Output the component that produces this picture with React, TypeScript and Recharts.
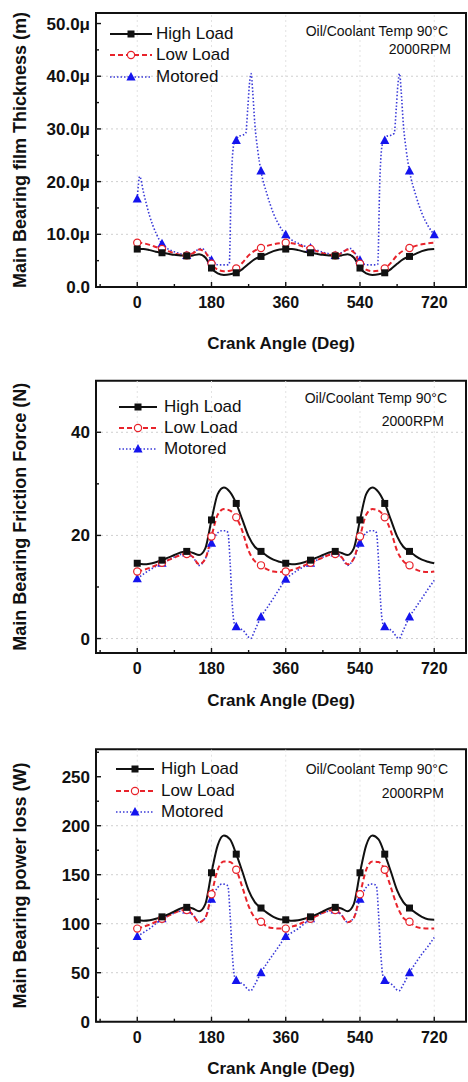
import React from "react";
import { LineChart, Line, XAxis, YAxis, ReferenceLine, ReferenceArea, Legend } from "recharts";

const FONT = '"Liberation Sans", Arial, Helvetica, sans-serif';

// crank angle (deg) for the high / low load curves
const loadAngles = [
  0, 15, 30, 45, 60, 75, 90, 105, 120, 135, 150, 165, 180, 195, 210, 225, 240, 255, 270, 285, 300, 315, 330, 345, 360,
  375, 390, 405, 420, 435, 450, 465, 480, 495, 510, 525, 540, 555, 570, 585, 600, 615, 630, 645, 660, 675, 690, 705, 720,
];

// film thickness, micrometres
const filmHigh = [
  7.2, 7.2, 7.0, 6.7, 6.5, 6.3, 6.1, 6.0, 5.9, 6.0, 6.2, 5.6, 3.6, 2.6, 2.3, 2.4, 2.7, 3.4, 4.4, 5.3, 5.8, 6.3, 6.8, 7.1, 7.2,
  7.2, 7.0, 6.7, 6.5, 6.3, 6.1, 6.0, 5.9, 6.0, 6.2, 5.6, 3.6, 2.6, 2.3, 2.4, 2.7, 3.4, 4.4, 5.3, 5.8, 6.3, 6.8, 7.1, 7.2,
];
const filmLow = [
  8.4, 8.3, 8.0, 7.6, 7.2, 6.8, 6.4, 6.1, 6.0, 6.4, 7.1, 6.6, 4.4, 3.3, 3.0, 3.1, 3.5, 4.6, 6.0, 6.9, 7.4, 7.8, 8.1, 8.3, 8.4,
  8.3, 8.0, 7.6, 7.2, 6.8, 6.4, 6.1, 6.0, 6.4, 7.1, 6.6, 4.4, 3.3, 3.0, 3.1, 3.5, 4.6, 6.0, 6.9, 7.4, 7.8, 8.1, 8.3, 8.4,
];
const filmMotAngles = [
  0, 6, 15, 30, 45, 60, 75, 90, 105, 120, 135, 150, 158, 165, 180, 190, 200, 215, 223, 228, 234, 240, 245, 255, 263,
  268, 272, 276, 280, 285, 292, 300, 315, 330, 345, 360,
  375, 390, 405, 420, 435, 450, 465, 480, 495, 510, 518, 525, 540, 550, 560, 575, 583, 588, 594, 600, 605, 615, 623,
  628, 632, 636, 640, 645, 652, 660, 675, 690, 705, 720,
];
const filmMot = [
  16.7, 21.0, 18.0, 13.5, 10.3, 8.2, 7.2, 6.7, 6.3, 6.0, 6.5, 7.2, 7.3, 6.7, 5.1, 4.3, 4.2, 4.2, 4.3, 20, 27, 27.8, 28.6, 28.8, 29.2,
  34, 38.5, 40.5, 37, 31, 26, 22.0, 17.5, 14.0, 11.6, 9.9,
  8.9, 8.3, 7.8, 7.4, 7.0, 6.6, 6.3, 6.0, 6.5, 7.2, 7.3, 6.7, 5.1, 4.3, 4.2, 4.2, 4.3, 20, 27, 27.8, 28.6, 28.8, 29.2,
  34, 38.5, 40.5, 37, 31, 26, 22.0, 17.5, 14.0, 11.6, 9.9,
];

// friction force, N
const forceHigh = [
  14.6, 14.4, 14.5, 14.8, 15.2, 15.7, 16.2, 16.7, 16.9, 16.6, 16.2, 17.5, 23.0, 28.0, 29.3, 28.4, 26.2, 23.0, 19.8, 17.8, 16.9, 16.0, 15.3, 14.9, 14.6,
  14.4, 14.5, 14.8, 15.2, 15.7, 16.2, 16.7, 16.9, 16.6, 16.2, 17.5, 23.0, 28.0, 29.3, 28.4, 26.2, 23.0, 19.8, 17.8, 16.9, 16.0, 15.3, 14.9, 14.6,
];
const forceLow = [
  13.0, 13.3, 13.7, 14.2, 14.7, 15.2, 15.7, 16.2, 16.4, 15.8, 14.4, 15.5, 19.8, 24.0, 25.1, 24.8, 23.5, 20.8, 17.0, 15.0, 14.2, 13.4, 13.0, 12.9, 13.0,
  13.3, 13.7, 14.2, 14.7, 15.2, 15.7, 16.2, 16.4, 15.8, 14.4, 15.5, 19.8, 24.0, 25.1, 24.8, 23.5, 20.8, 17.0, 15.0, 14.2, 13.4, 13.0, 12.9, 13.0,
];
const motAngles = [
  0, 15, 30, 45, 60, 75, 90, 105, 120, 135, 150, 165, 180, 195, 205, 215, 220, 225, 230, 235, 240, 250, 260, 268, 275,
  285, 300, 315, 330, 345, 360,
  375, 390, 405, 420, 435, 450, 465, 480, 495, 510, 525, 540, 555, 565, 575, 580, 585, 590, 595, 600, 610, 620, 628, 635,
  645, 660, 675, 690, 705, 720,
];
const forceMot = [
  11.6, 12.5, 13.3, 14.0, 14.6, 15.2, 15.8, 16.3, 16.6, 15.8, 14.2, 15.5, 18.5, 20.5, 20.9, 20.9, 20.5, 15, 7, 3, 2.3, 1.9, 1.3, 0.4, 0.0,
  1.6, 4.2, 6.0, 7.8, 9.7, 11.5,
  12.5, 13.3, 14.0, 14.6, 15.2, 15.8, 16.3, 16.6, 15.8, 14.2, 15.5, 18.5, 20.5, 20.9, 20.9, 20.5, 15, 7, 3, 2.3, 1.9, 1.3, 0.4, 0.0,
  1.6, 4.2, 6.0, 7.8, 9.6, 11.3,
];

// power loss, W
const powerHigh = [
  104, 103, 103.5, 105, 107, 109.5, 112.5, 115.5, 116.7, 115.5, 112.8, 120, 152, 180, 190, 186, 171, 153, 134, 122, 116, 111, 107, 104.5, 104,
  103, 103.5, 105, 107, 109.5, 112.5, 115.5, 116.7, 115.5, 112.8, 120, 152, 180, 190, 186, 171, 153, 134, 122, 116, 111, 107, 104.5, 104,
];
const powerLow = [
  95, 97, 99, 102, 105, 108, 111, 113.5, 114, 109, 101.5, 106, 130, 155, 163.5, 163, 155, 137, 118, 106, 102, 97, 95.5, 95, 95,
  97, 99, 102, 105, 108, 111, 113.5, 114, 109, 101.5, 106, 130, 155, 163.5, 163, 155, 137, 118, 106, 102, 97, 95.5, 95, 95,
];
const powerMot = [
  87, 91, 95, 100, 105, 108, 111, 113, 114, 109, 101.5, 106, 125, 137, 140.5, 140, 138, 110, 72, 48, 42, 40, 37, 33, 31.6,
  38, 50, 60, 69, 78, 87,
  91, 95, 100, 105, 108, 111, 113, 114, 109, 101.5, 106, 125, 137, 140.5, 140, 138, 110, 72, 48, 42, 40, 37, 33, 31.6,
  38, 50, 60, 69, 77, 86,
];

// marker positions
const marks = [0, 60, 120, 180, 240, 300, 360, 420, 480, 540, 600, 660];
const marksWithEnd = [0, 60, 120, 180, 240, 300, 360, 420, 480, 540, 600, 660, 720];

const xTicks = [-90, 0, 90, 180, 270, 360, 450, 540, 630, 720];
const xMajor = [0, 180, 360, 540, 720];
const xDomain: [number, number] = [-100, 797];

const seriesNames = ["High Load", "Low Load", "Motored"];
const noteLines = ["Oil/Coolant Temp 90\u00b0C", "2000RPM"];

const BLACK = "#111";
const RED = "#e8232b";
const BLUE_LINE = "#3a3ad8";
const BLUE_MARK = "#1414ee";

const zip = (xs: number[], ys: number[]) => xs.map((a, i) => ({ a, v: ys[i] }));

const square = (on: number[]) => (p: any) =>
  on.includes(p.payload.a) ? (
    <rect key={p.index} x={p.cx - 3.5} y={p.cy - 3.5} width={7} height={7} fill={BLACK} />
  ) : (
    <g key={p.index} />
  );
const circle = (on: number[]) => (p: any) =>
  on.includes(p.payload.a) ? (
    <circle key={p.index} cx={p.cx} cy={p.cy} r={3.6} fill="#fff" stroke={RED} strokeWidth={1.2} />
  ) : (
    <g key={p.index} />
  );
const triangle = (on: number[]) => (p: any) =>
  on.includes(p.payload.a) ? (
    <path key={p.index} d={`M${p.cx},${p.cy - 5} L${p.cx + 4.6},${p.cy + 3.5} L${p.cx - 4.6},${p.cy + 3.5} Z`} fill={BLUE_MARK} />
  ) : (
    <g key={p.index} />
  );

const XTick = (props: any) => {
  const { x, y, payload } = props;
  const major = xMajor.includes(payload.value);
  return (
    <g>
      <line x1={x} x2={x} y1={y} y2={y - (major ? 5 : 3)} stroke={BLACK} strokeWidth={1.4} />
      {major && (
        <text x={x} y={y + 21} textAnchor="middle" fontSize={16} fontWeight="bold" fontFamily={FONT} fill={BLACK}>
          {payload.value}
        </text>
      )}
    </g>
  );
};

const makeYTick = (labels: Record<number, string>) => (props: any) => {
  const { x, y, payload } = props;
  const text = labels[payload.value];
  const major = text !== undefined;
  return (
    <g>
      <line x1={x} x2={x + (major ? 5 : 3)} y1={y} y2={y} stroke={BLACK} strokeWidth={1.4} />
      {major && (
        <text x={x - 6} y={y + 6} textAnchor="end" fontSize={17} fontWeight="bold" fontFamily={FONT} fill={BLACK}>
          {text}
        </text>
      )}
    </g>
  );
};

const yTitle = (text: string) => (props: any) => {
  const vb = props.viewBox;
  const cx = 20;
  const cy = vb.y + vb.height / 2;
  return (
    <text
      x={cx}
      y={cy}
      transform={`rotate(-90 ${cx} ${cy})`}
      textAnchor="middle"
      dominantBaseline="central"
      fontSize={18}
      fontWeight="bold"
      fontFamily={FONT}
      fill={BLACK}
    >
      {text}
    </text>
  );
};

const xTitle = (drop: number) => (props: any) => {
  const vb = props.viewBox;
  return (
    <text x={vb.x + vb.width / 2} y={vb.y + drop} textAnchor="middle" fontSize={17} fontWeight="bold" fontFamily={FONT} fill={BLACK}>
      Crank Angle (Deg)
    </text>
  );
};

type KeyLayout = {
  rows: number[];
  lineX: [number, number];
  textX: number;
  notes: [number, number][]; // [centre y, right inset]
};

function Sample({ i, w }: { i: number; w: number }) {
  const m = w / 2;
  if (i === 0)
    return (
      <svg width={w} height={12}>
        <line x1={0} x2={w} y1={6} y2={6} stroke={BLACK} strokeWidth={2} />
        <rect x={m - 3.5} y={2.5} width={7} height={7} fill={BLACK} />
      </svg>
    );
  if (i === 1)
    return (
      <svg width={w} height={12}>
        <line x1={0} x2={w} y1={6} y2={6} stroke={RED} strokeWidth={2} strokeDasharray="5 3" />
        <circle cx={m} cy={6} r={3.6} fill="#fff" stroke={RED} strokeWidth={1.2} />
      </svg>
    );
  return (
    <svg width={w} height={12}>
      <line x1={0} x2={w} y1={6} y2={6} stroke={BLUE_LINE} strokeWidth={1.6} strokeDasharray="1.5 2" />
      <path d={`M${m},1 L${m + 4.6},9.5 L${m - 4.6},9.5 Z`} fill={BLUE_MARK} />
    </svg>
  );
}

function PanelKey({ k }: { k: KeyLayout }) {
  const w = k.lineX[1] - k.lineX[0];
  return (
    <div style={{ position: "relative", width: 370, height: 90, fontFamily: FONT, color: BLACK }}>
      {seriesNames.map((name, i) => (
        <div
          key={name}
          style={{
            position: "absolute",
            left: k.lineX[0],
            top: k.rows[i] - 10,
            height: 20,
            display: "flex",
            alignItems: "center",
            whiteSpace: "nowrap",
          }}
        >
          <Sample i={i} w={w} />
          <span style={{ marginLeft: k.textX - k.lineX[1], fontSize: 17 }}>{name}</span>
        </div>
      ))}
      {noteLines.map((t, i) => (
        <div
          key={t}
          style={{
            position: "absolute",
            right: k.notes[i][1],
            top: k.notes[i][0] - 9,
            fontSize: 14,
            lineHeight: "18px",
            whiteSpace: "nowrap",
          }}
        >
          {t}
        </div>
      ))}
    </div>
  );
}

type PanelProps = {
  top: number;
  height: number;
  frameTop: number;
  xAxisHeight: number;
  titleDrop: number;
  yDomain: [number, number];
  yTicks: number[];
  yLabels: Record<number, string>;
  yGrid: number[];
  title: string;
  high: number[];
  low: number[];
  motAng: number[];
  mot: number[];
  motMarks: number[];
  keyLayout: KeyLayout;
};

function Panel(p: PanelProps) {
  return (
    <div style={{ position: "absolute", left: 0, top: p.top }}>
      <LineChart width={468} height={p.height} margin={{ top: p.frameTop, right: 2, bottom: 0, left: 0 }}>
        <XAxis
          dataKey="a"
          type="number"
          domain={xDomain}
          allowDataOverflow
          ticks={xTicks}
          interval={0}
          height={p.xAxisHeight}
          axisLine={false}
          tickLine={false}
          tickSize={0}
          tickMargin={0}
          tick={XTick}
          label={xTitle(p.titleDrop)}
        />
        <YAxis
          type="number"
          domain={p.yDomain}
          allowDataOverflow
          ticks={p.yTicks}
          interval={0}
          width={96}
          axisLine={false}
          tickLine={false}
          tickSize={0}
          tickMargin={0}
          tick={makeYTick(p.yLabels)}
          label={yTitle(p.title)}
        />
        {p.yGrid.map((v) => (
          <ReferenceLine key={`h${v}`} y={v} stroke="#cfcfcf" strokeDasharray="2 3" />
        ))}
        {xMajor.map((v) => (
          <ReferenceLine key={`v${v}`} x={v} stroke="#e2e2e2" strokeDasharray="2 3" />
        ))}
        <ReferenceArea
          x1={xDomain[0]}
          x2={xDomain[1]}
          y1={p.yDomain[0]}
          y2={p.yDomain[1]}
          fill="none"
          fillOpacity={0}
          stroke={BLACK}
          strokeWidth={2}
          ifOverflow="visible"
        />
        <Line
          data={zip(p.motAng, p.mot)}
          dataKey="v"
          type="monotone"
          stroke={BLUE_LINE}
          strokeWidth={1.6}
          strokeDasharray="1.5 2"
          dot={triangle(p.motMarks)}
          activeDot={false}
          isAnimationActive={false}
        />
        <Line
          data={zip(loadAngles, p.low)}
          dataKey="v"
          type="monotone"
          stroke={RED}
          strokeWidth={2}
          strokeDasharray="5 3"
          dot={circle(marks)}
          activeDot={false}
          isAnimationActive={false}
        />
        <Line
          data={zip(loadAngles, p.high)}
          dataKey="v"
          type="monotone"
          stroke={BLACK}
          strokeWidth={2}
          dot={square(marks)}
          activeDot={false}
          isAnimationActive={false}
        />
        <Legend
          layout="vertical"
          align="center"
          verticalAlign="middle"
          content={() => <PanelKey k={p.keyLayout} />}
          wrapperStyle={{ left: 96, top: p.frameTop, width: 370, height: 90 }}
        />
      </LineChart>
    </div>
  );
}

export default function App() {
  return (
    <div style={{ position: "absolute", left: 0, top: 0, width: 468, height: 1082, background: "#fff" }}>
      <Panel
        top={0}
        height={360}
        frameTop={13}
        xAxisHeight={73}
        titleDrop={62}
        yDomain={[0, 52]}
        yTicks={[0, 5, 10, 15, 20, 25, 30, 35, 40, 45, 50]}
        yLabels={{ 0: "0.0", 10: "10.0\u03bc", 20: "20.0\u03bc", 30: "30.0\u03bc", 40: "40.0\u03bc", 50: "50.0\u03bc" }}
        yGrid={[10, 20, 30, 40]}
        title="Main Bearing film Thickness (m)"
        high={filmHigh}
        low={filmLow}
        motAng={filmMotAngles}
        mot={filmMot}
        motMarks={marksWithEnd}
        keyLayout={{ rows: [21, 42, 64], lineX: [14, 56], textX: 60, notes: [[18, 18], [36, 15]] }}
      />
      <Panel
        top={360}
        height={360}
        frameTop={20.7}
        xAxisHeight={67}
        titleDrop={53}
        yDomain={[-2.8, 50]}
        yTicks={[0, 10, 20, 30, 40]}
        yLabels={{ 0: "0", 20: "20", 40: "40" }}
        yGrid={[0, 20, 40]}
        title="Main Bearing Friction Force (N)"
        high={forceHigh}
        low={forceLow}
        motAng={motAngles}
        mot={forceMot}
        motMarks={marks}
        keyLayout={{ rows: [26, 47.3, 68.3], lineX: [23, 61], textX: 68, notes: [[17.3, 19], [40.3, 22]] }}
      />
      <Panel
        top={720}
        height={362}
        frameTop={29.3}
        xAxisHeight={60.3}
        titleDrop={52}
        yDomain={[0, 278]}
        yTicks={[0, 25, 50, 75, 100, 125, 150, 175, 200, 225, 250, 275]}
        yLabels={{ 0: "0", 50: "50", 100: "100", 150: "150", 200: "200", 250: "250" }}
        yGrid={[50, 100, 150, 200]}
        title="Main Bearing power loss (W)"
        high={powerHigh}
        low={powerLow}
        motAng={motAngles}
        mot={powerMot}
        motMarks={marks}
        keyLayout={{ rows: [19.7, 41.7, 62.7], lineX: [20, 58], textX: 65, notes: [[19.7, 18], [43.7, 22]] }}
      />
    </div>
  );
}
